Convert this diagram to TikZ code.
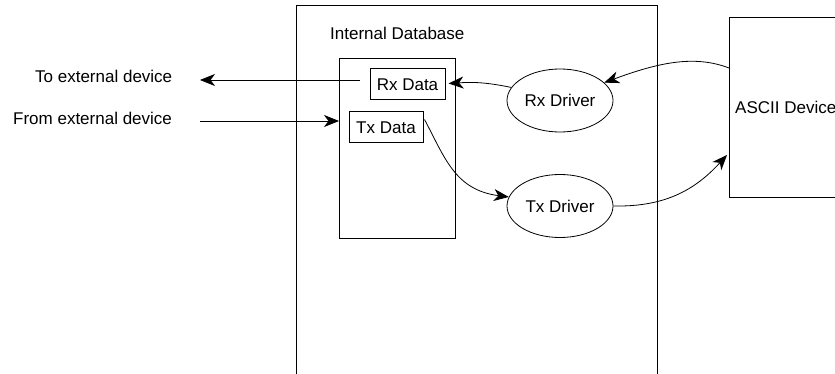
\documentclass[tikz,border=0pt]{standalone}
\usepackage{fontspec}
\setmainfont{Liberation Sans}
\usetikzlibrary{shapes.geometric,arrows.meta,calc}
\begin{document}
\begin{tikzpicture}[x=1pt,y=-1pt,
  every node/.style={font=\fontsize{17}{20}\selectfont, inner sep=0pt},
  lbl/.style={anchor=west},
  databox/.style={draw, line width=1pt, minimum width=#1, minimum height=31pt},
  drv/.style={draw, ellipse, line width=0.8pt, minimum width=106pt, minimum height=63pt},
  frame/.style={draw, line width=1pt},
  conn/.style={line width=0.8pt, -{Stealth[length=15pt,width=12pt,inset=4.5pt]}}
]
\clip (0,0) rectangle (835,374);
\fill[white] (0,0) rectangle (835,374);
% outer internal database frame (open at bottom)
\draw[line width=1pt] (296,380) -- (296,5.5) -- (657,5.5) -- (657,380);
\node[lbl] (idb) at (330,33) {Internal Database};
% inner box
\node[frame, minimum width=116pt, minimum height=180pt, anchor=north west] (inner) at (339,58) {};
\node[databox=75pt] (rxdata) at (407.5,84.5) {Rx Data};
\node[databox=74pt] (txdata) at (386,127.5) {Tx Data};
% drivers
\node[drv] (rxdrv) at (560,100.5) {Rx Driver};
\node[drv] (txdrv) at (560,206) {Tx Driver};
% ASCII device
\node[frame, minimum width=130pt, minimum height=180pt, anchor=north west] (ascii) at (729,17) {};
\node[lbl] (asciilbl) at (735,107) {ASCII Device};
% external labels
\node[lbl] (toext) at (35,76) {To external device};
\node[lbl] (fromext) at (13,118) {From external device};
\coordinate (toend) at (200,80);
\coordinate (tostart) at (360,80);
\coordinate (fromstart) at (200,121);
\coordinate (asciiout) at (729,68);
\coordinate (asciiin) at (727,155);
% connectors
\draw[conn] (tostart) -- (toend);
\draw[conn] (fromstart) -- (fromstart -| inner.west);
\draw[conn] (rxdrv.165) .. controls (485,82) and (472,82) .. ($(rxdata.east)+(3,-1)$);
\draw[conn] (asciiout) .. controls (695,55) and (660,62) .. (rxdrv.22);
\draw[conn] ($(txdata.east)+(1,-8)$) .. controls (445,158) and (455,190) .. (txdrv.170);
\draw[conn] (txdrv.east) .. controls (665,207) and (695,190) .. (asciiin);
\end{tikzpicture}
\end{document}
